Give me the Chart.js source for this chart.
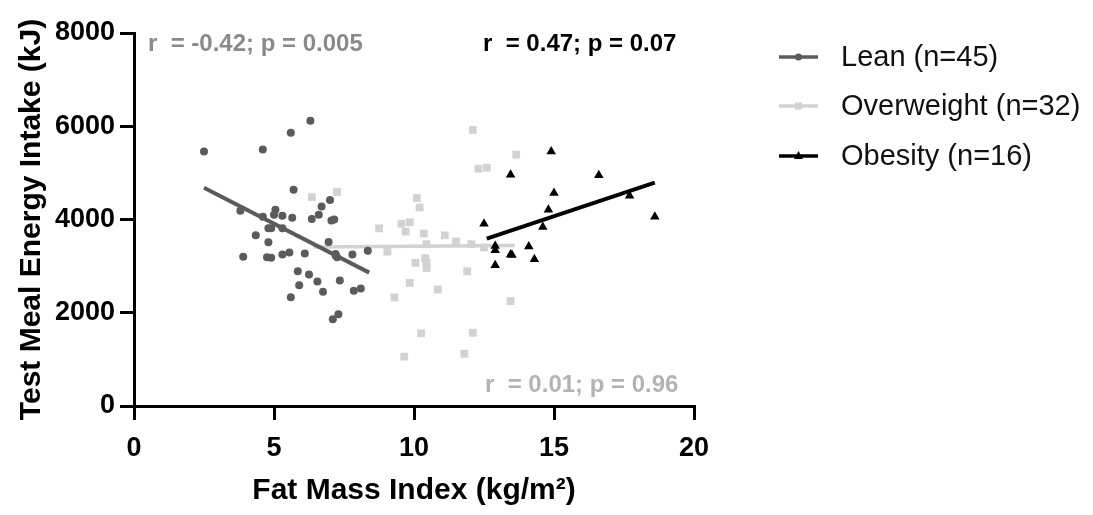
<!DOCTYPE html>
<html>
<head>
<meta charset="utf-8">
<script src="https://cdn.jsdelivr.net/npm/chart.js@4.4.0/dist/chart.umd.min.js"></script>
<style>
html,body{margin:0;padding:0;background:#fff;}
#wrap{width:1093px;height:515px;}
</style>
</head>
<body>
<div id="wrap"><canvas id="c" width="1093" height="515"></canvas></div>
<script>
// ---- data ----
const seriesNames = ['Lean (n=45)', 'Overweight (n=32)', 'Obesity (n=16)'];

const leanFMI = [2.5,4.6,5.6,6.3,5.7,7.0,6.7,3.8,5.05,5.0,5.3,4.6,5.65,6.35,6.6,7.05,7.15,4.8,4.9,5.3,4.35,4.8,6.95,3.9,4.75,4.9,5.3,5.55,6.1,7.2,7.25,7.8,8.35,5.85,6.25,6.55,7.35,5.9,6.75,7.85,8.1,5.6,7.1,7.3,7.2];
const leanEI  = [5460,5500,5860,6120,4640,4420,4280,4190,4210,4100,4080,4060,4040,4010,4100,3980,4000,3810,3810,3810,3660,3510,3520,3200,3190,3180,3250,3290,3270,3260,3190,3250,3330,2890,2820,2670,2690,2590,2450,2470,2520,2330,1860,1970,3230];

const owFMI = [12.1,13.65,12.3,12.6,10.1,10.2,9.55,9.85,9.7,8.75,10.35,11.1,11.5,12.05,10.45,12.5,9.05,10.4,10.05,10.45,10.45,11.9,9.85,10.85,9.3,13.45,10.25,12.1,9.65,11.8,6.35,7.25];
const owEI  = [5920,5390,5090,5110,4460,4260,3910,3940,3740,3810,3700,3660,3530,3470,3470,3400,3310,3170,3070,3070,2960,2890,2640,2500,2330,2250,1560,1570,1060,1120,4480,4590];

const obFMI = [14.9,13.45,16.6,15.0,17.7,14.8,12.5,18.6,14.6,12.9,12.9,14.1,13.45,13.5,14.3,12.9];
const obEI  = [5460,4960,4950,4570,4510,4210,3910,4060,3840,3430,3340,3420,3250,3240,3150,3020];

// regression line end points
const leanFitX = [2.5, 8.4];   const leanFitY = [4680, 2860];
const owFitX   = [6.4, 13.6];  const owFitY   = [3410, 3440];
const obFitX   = [12.6, 18.6]; const obFitY   = [3590, 4790];

const statLabels = ['r  = -0.42; p = 0.005', 'r  = 0.01; p = 0.96', 'r  = 0.47; p = 0.07'];

const xTicks = [0, 5, 10, 15, 20];
const yTicks = [0, 2000, 4000, 6000, 8000];

// ---- helpers ----
const pts = (xs, ys) => xs.map((x, i) => ({x: x, y: ys[i]}));
const C_LEAN = '#5b5b5b', C_OW = '#d2d2d2', C_OB = '#000000';
const FONT = '"Liberation Sans", Arial, Helvetica, sans-serif';

const legendPlugin = {
  id: 'customLegendAndStats',
  afterDraw(chart) {
    const ctx = chart.ctx;
    const a = chart.chartArea;
    ctx.save();
    // stats text
    ctx.font = 'bold 24px ' + FONT;
    ctx.textBaseline = 'middle';
    ctx.textAlign = 'left';
    ctx.fillStyle = '#8a8a8a';
    ctx.fillText(statLabels[0], a.left + 14, a.top + 11);
    ctx.fillStyle = '#b3b3b3';
    ctx.fillText(statLabels[1], a.left + 351, a.bottom - 21);
    ctx.fillStyle = '#000';
    ctx.fillText(statLabels[2], a.left + 349, a.top + 11);

    // legend
    const items = [
      {label: seriesNames[0], color: C_LEAN, style: 'circle'},
      {label: seriesNames[1], color: C_OW, style: 'rect'},
      {label: seriesNames[2], color: C_OB, style: 'triangle'}
    ];
    const x0 = 779, x1 = 818, tx = 841;
    const ys = [57, 106, 156];
    items.forEach((it, i) => {
      const y = ys[i];
      ctx.strokeStyle = it.color;
      ctx.lineWidth = 3.5;
      ctx.beginPath(); ctx.moveTo(x0, y); ctx.lineTo(x1, y); ctx.stroke();
      ctx.fillStyle = it.color;
      ctx.beginPath();
      const m = (x0 + x1) / 2;
      if (it.style === 'circle') { ctx.arc(m, y, 3.5, 0, Math.PI * 2); }
      else if (it.style === 'rect') { ctx.rect(m - 3.5, y - 3.5, 7, 7); }
      else { ctx.moveTo(m, y - 5); ctx.lineTo(m + 4.5, y + 3); ctx.lineTo(m - 4.5, y + 3); ctx.closePath(); }
      ctx.fill();
      ctx.fillStyle = '#111';
      ctx.font = '29px ' + FONT;
      ctx.fillText(it.label, tx, y + 1);
    });
    ctx.restore();
  }
};

const tickFont = {family: FONT, size: 27, weight: 'bold'};
const titleFont = {family: FONT, size: 30, weight: 'bold'};
const plainNum = v => String(v);

new Chart(document.getElementById('c'), {
  type: 'scatter',
  data: {
    datasets: [
      {label: seriesNames[1], data: pts(owFMI, owEI), backgroundColor: C_OW, borderColor: C_OW,
       pointStyle: 'rect', pointRadius: 5.5, pointBorderWidth: 0, order: 6},
      {label: seriesNames[1] + ' fit', type: 'line', data: pts(owFitX, owFitY), borderColor: C_OW,
       borderWidth: 3.5, pointRadius: 0, fill: false, showLine: true, order: 5},
      {label: seriesNames[0], data: pts(leanFMI, leanEI), backgroundColor: C_LEAN, borderColor: C_LEAN,
       pointStyle: 'circle', pointRadius: 4, pointBorderWidth: 0, order: 4},
      {label: seriesNames[0] + ' fit', type: 'line', data: pts(leanFitX, leanFitY), borderColor: C_LEAN,
       borderWidth: 4, pointRadius: 0, fill: false, showLine: true, order: 3},
      {label: seriesNames[2], data: pts(obFMI, obEI), backgroundColor: C_OB, borderColor: C_OB,
       pointStyle: 'triangle', pointRadius: 5.5, pointBorderWidth: 0, order: 2},
      {label: seriesNames[2] + ' fit', type: 'line', data: pts(obFitX, obFitY), borderColor: C_OB,
       borderWidth: 4, pointRadius: 0, fill: false, showLine: true, order: 1}
    ]
  },
  options: {
    responsive: false,
    animation: false,
    events: [],
    layout: {padding: {left: 0, right: 399, top: 33, bottom: 0}},
    plugins: {legend: {display: false}, tooltip: {enabled: false}},
    scales: {
      x: {
        type: 'linear', min: 0, max: 20,
        afterBuildTicks: s => { s.ticks = xTicks.map(v => ({value: v})); },
        afterFit: s => { s.height = 109; },
        border: {display: true, color: '#000', width: 3},
        grid: {display: true, drawOnChartArea: false, drawTicks: true, tickLength: 14, lineWidth: 3, color: '#000'},
        ticks: {color: '#000', font: tickFont, padding: 12, maxRotation: 0, callback: plainNum},
        title: {display: true, text: 'Fat Mass Index (kg/m²)', color: '#000', font: titleFont, padding: {top: 0, bottom: 6}}
      },
      y: {
        type: 'linear', min: 0, max: 8000,
        afterBuildTicks: s => { s.ticks = yTicks.map(v => ({value: v})); },
        afterFit: s => { s.width = 134; },
        border: {display: true, color: '#000', width: 3},
        grid: {display: true, drawOnChartArea: false, drawTicks: true, tickLength: 14, lineWidth: 3, color: '#000'},
        ticks: {color: '#000', font: tickFont, padding: 5, callback: plainNum},
        title: {display: true, text: 'Test Meal Energy Intake (kJ)', color: '#000', font: titleFont, padding: {top: 14, bottom: 0}}
      }
    }
  },
  plugins: [legendPlugin]
});
</script>
</body>
</html>
